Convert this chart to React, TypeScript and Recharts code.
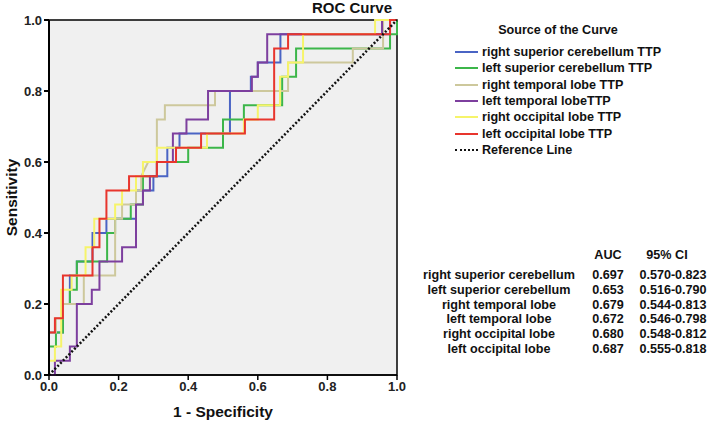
import { LineChart, Line, XAxis, YAxis, ReferenceArea } from "recharts";

// ROC curve vertices (1 - specificity, sensitivity)
const rightSupCerebellum = [
  [0, 0], [0, 0.12], [0.04, 0.12], [0.04, 0.2], [0.06, 0.2], [0.06, 0.28], [0.08, 0.28],
  [0.08, 0.32], [0.125, 0.32], [0.125, 0.4], [0.165, 0.4], [0.165, 0.44], [0.25, 0.44],
  [0.25, 0.52], [0.3, 0.52], [0.3, 0.56], [0.34, 0.56], [0.34, 0.64], [0.375, 0.64],
  [0.375, 0.68], [0.52, 0.68], [0.52, 0.8], [0.58, 0.8], [0.58, 0.84], [0.6, 0.84],
  [0.6, 0.88], [0.665, 0.88], [0.665, 0.96], [0.98, 0.96], [0.98, 1], [1, 1],
];
const leftSupCerebellum = [
  [0, 0], [0, 0.08], [0.02, 0.08], [0.02, 0.12], [0.04, 0.12], [0.04, 0.2], [0.06, 0.2],
  [0.06, 0.24], [0.08, 0.24], [0.08, 0.32], [0.167, 0.32], [0.167, 0.4], [0.19, 0.4],
  [0.19, 0.44], [0.235, 0.44], [0.235, 0.48], [0.27, 0.48], [0.27, 0.56], [0.31, 0.56],
  [0.31, 0.6], [0.4, 0.6], [0.4, 0.64], [0.5, 0.64], [0.5, 0.72], [0.56, 0.72],
  [0.56, 0.76], [0.67, 0.76], [0.67, 0.84], [0.71, 0.84], [0.71, 0.92], [0.98, 0.92],
  [0.98, 0.96], [1, 0.96], [1, 1],
];
const rightTemporal = [
  [0, 0], [0, 0.12], [0.02, 0.12], [0.02, 0.16], [0.04, 0.16], [0.04, 0.2], [0.1, 0.2],
  [0.1, 0.28], [0.19, 0.28], [0.19, 0.44], [0.21, 0.44], [0.21, 0.48], [0.25, 0.48],
  [0.25, 0.52], [0.265, 0.52], [0.265, 0.56], [0.285, 0.6], [0.31, 0.6], [0.31, 0.72],
  [0.333, 0.72], [0.333, 0.76], [0.477, 0.76], [0.477, 0.8], [0.687, 0.8], [0.687, 0.88],
  [0.873, 0.88], [0.873, 0.92], [0.96, 0.92], [0.96, 1], [1, 1],
];
const leftTemporal = [
  [0, 0], [0.017, 0], [0.017, 0.04], [0.06, 0.04], [0.06, 0.08], [0.08, 0.08], [0.08, 0.2],
  [0.123, 0.2], [0.123, 0.24], [0.145, 0.24], [0.145, 0.32], [0.21, 0.32], [0.21, 0.36],
  [0.25, 0.36], [0.25, 0.48], [0.27, 0.48], [0.27, 0.52], [0.29, 0.52], [0.29, 0.56],
  [0.31, 0.56], [0.31, 0.6], [0.356, 0.6], [0.356, 0.68], [0.395, 0.68], [0.395, 0.72],
  [0.457, 0.72], [0.457, 0.8], [0.583, 0.8], [0.583, 0.84], [0.6, 0.84], [0.6, 0.88],
  [0.627, 0.88], [0.627, 0.96], [0.957, 0.96], [0.957, 1], [1, 1],
];
const rightOccipital = [
  [0, 0], [0, 0.04], [0.017, 0.04], [0.017, 0.08], [0.035, 0.08], [0.035, 0.24],
  [0.065, 0.24], [0.065, 0.28], [0.105, 0.28], [0.105, 0.36], [0.13, 0.36], [0.13, 0.44],
  [0.19, 0.44], [0.19, 0.48], [0.21, 0.48], [0.21, 0.52], [0.25, 0.52], [0.25, 0.56],
  [0.27, 0.56], [0.27, 0.6], [0.31, 0.6], [0.31, 0.64], [0.454, 0.64], [0.454, 0.68],
  [0.56, 0.68], [0.56, 0.72], [0.6, 0.72], [0.6, 0.76], [0.664, 0.76], [0.664, 0.84],
  [0.687, 0.84], [0.687, 0.88], [0.73, 0.88], [0.73, 0.96], [0.937, 0.96], [0.937, 1], [1, 1],
];
const leftOccipital = [
  [0, 0], [0, 0.12], [0.017, 0.12], [0.017, 0.16], [0.04, 0.16], [0.04, 0.28], [0.125, 0.28],
  [0.125, 0.36], [0.145, 0.36], [0.145, 0.44], [0.165, 0.44], [0.165, 0.52], [0.23, 0.52],
  [0.23, 0.56], [0.31, 0.56], [0.31, 0.6], [0.365, 0.6], [0.365, 0.64], [0.437, 0.64],
  [0.437, 0.68], [0.563, 0.68], [0.563, 0.72], [0.647, 0.72], [0.647, 0.92], [0.687, 0.92],
  [0.687, 0.96], [0.98, 0.96], [0.98, 1], [1, 1],
];
const referenceLine = [[0, 0], [1, 1]];

const seriesNames = [
  "right superior cerebellum TTP",
  "left superior cerebellum TTP",
  "right temporal lobe TTP",
  "left temporal lobeTTP",
  "right occipital lobe TTP",
  "left occipital lobe TTP",
];
const seriesColors = ["#4a64c4", "#3cb64a", "#cdc89c", "#7d3f9e", "#f6f46a", "#e8352d"];
const seriesPoints = [
  rightSupCerebellum, leftSupCerebellum, rightTemporal,
  leftTemporal, rightOccipital, leftOccipital,
];

const ticks = [0, 0.2, 0.4, 0.6, 0.8, 1.0];

const tableRegions = [
  "right superior cerebellum",
  "left superior cerebellum",
  "right temporal lobe",
  "left temporal lobe",
  "right occipital lobe",
  "left occipital lobe",
];
const tableAuc = ["0.697", "0.653", "0.679", "0.672", "0.680", "0.687"];
const tableCi = ["0.570-0.823", "0.516-0.790", "0.544-0.813", "0.546-0.798", "0.548-0.812", "0.555-0.818"];

const toRows = (pts: number[][]) => pts.map(([x, y]) => ({ x, y }));

const font = "'Liberation Sans', Arial, sans-serif";
const tickStyle = { fontSize: 13, fontWeight: 700, fill: "#222", fontFamily: font };
const axisLabelStyle = { fontSize: 15.5, fontWeight: 700, fill: "#111", fontFamily: font };

const txt = (left: number, top: number, extra: any = {}) => ({
  position: "absolute" as const,
  left,
  top,
  fontFamily: font,
  fontWeight: 700,
  fontSize: 12.6,
  color: "#111",
  whiteSpace: "nowrap" as const,
  lineHeight: "14px",
  ...extra,
});

export default function App() {
  return (
    <div style={{ position: "absolute", left: 0, top: 0, width: 709, height: 426, background: "#fff" }}>
      <LineChart width={709} height={426} margin={{ top: 20, right: 312, bottom: 0, left: 0 }}>
        <XAxis
          type="number"
          dataKey="x"
          domain={[0, 1]}
          ticks={ticks}
          tickFormatter={(v) => v.toFixed(1)}
          height={51}
          tick={tickStyle}
          stroke="#000"
          strokeWidth={1.5}
          tickSize={5}
          allowDuplicatedCategory={false}
          label={{ value: "1 - Specificity", position: "insideBottom", offset: 9, style: axisLabelStyle }}
        />
        <YAxis
          type="number"
          dataKey="y"
          domain={[0, 1]}
          ticks={ticks}
          tickFormatter={(v) => v.toFixed(1)}
          width={49}
          tick={tickStyle}
          stroke="#000"
          strokeWidth={2}
          tickSize={5}
          label={{ value: "Sensitivity", angle: -90, position: "insideLeft", offset: 11, style: { ...axisLabelStyle, textAnchor: "middle" } }}
        />
        <ReferenceArea x1={0} x2={1} y1={0} y2={1} fill="#f0f0f0" fillOpacity={1} stroke="#000" strokeWidth={1.5} />
        {seriesPoints.map((pts, i) => (
          <Line
            key={seriesNames[i]}
            data={toRows(pts)}
            dataKey="y"
            type="linear"
            stroke={seriesColors[i]}
            strokeWidth={2}
            dot={false}
            activeDot={false}
            isAnimationActive={false}
          />
        ))}
        <Line
          data={toRows(referenceLine)}
          dataKey="y"
          type="linear"
          stroke="#111"
          strokeWidth={2.5}
          strokeDasharray="2 2"
          dot={false}
          activeDot={false}
          isAnimationActive={false}
        />
      </LineChart>

      <div style={txt(300, 0, { fontSize: 15, width: 92, textAlign: "right", lineHeight: "16px" })}>ROC Curve</div>

      <div style={txt(468, 23, { width: 180, textAlign: "center" })}>Source of the Curve</div>
      {seriesNames.map((name, i) => (
        <div key={name} style={txt(455, 45 + i * 16.3, { display: "flex", alignItems: "center" })}>
          <span style={{ display: "inline-block", width: 23, height: 2, background: seriesColors[i], marginRight: 4 }} />
          {name}
        </div>
      ))}
      <div style={txt(455, 45 + 6 * 16.3, { display: "flex", alignItems: "center" })}>
        <span style={{ display: "inline-block", width: 23, height: 0, borderTop: "2px dotted #111", marginRight: 4 }} />
        Reference Line
      </div>

      <div style={txt(588, 248, { width: 40, textAlign: "center" })}>AUC</div>
      <div style={txt(632, 248, { width: 70, textAlign: "center" })}>95% CI</div>
      {tableRegions.map((r, i) => (
        <div key={r}>
          <div style={txt(418, 268 + i * 14.8, { width: 162, textAlign: "center" })}>{r}</div>
          <div style={txt(588, 268 + i * 14.8, { width: 40, textAlign: "center" })}>{tableAuc[i]}</div>
          <div style={txt(636, 268 + i * 14.8, { width: 74, textAlign: "center" })}>{tableCi[i]}</div>
        </div>
      ))}
    </div>
  );
}
